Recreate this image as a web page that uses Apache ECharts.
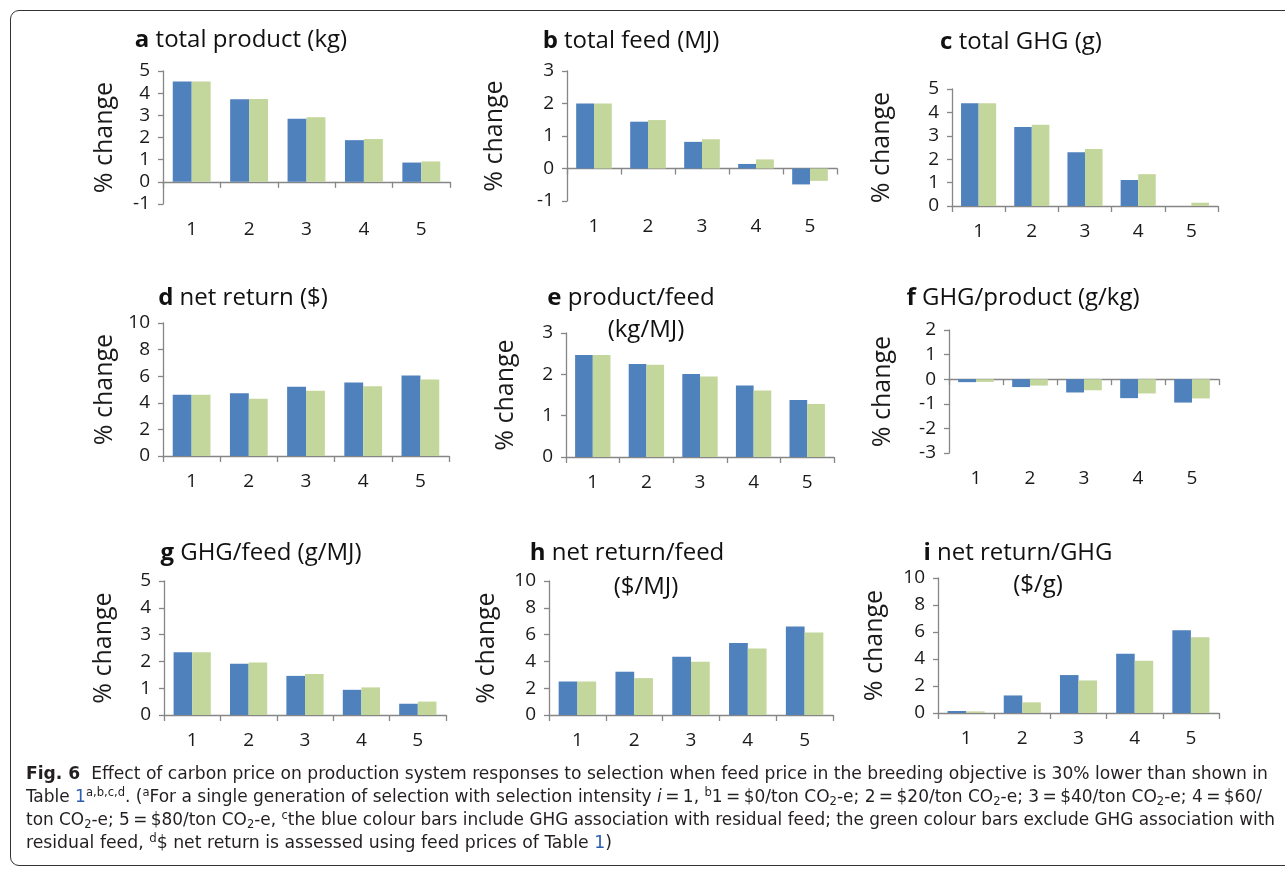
<!DOCTYPE html>
<html>
<head>
<meta charset="utf-8">
<script src="https://cdn.jsdelivr.net/npm/echarts@6/dist/echarts.min.js"></script>
<style>
  html, body { margin: 0; padding: 0; background: #fff; }
  #wrap { position: relative; width: 1285px; height: 873px; overflow: hidden; }
  #chart { position: absolute; left: 0; top: 0; width: 1285px; height: 873px; }
  #frame { position: absolute; left: 10px; top: 10px; width: 1320px; height: 856px;
           border: 1.3px solid #333; border-radius: 9px; box-sizing: border-box; }
  #caption { position: absolute; left: 26px; top: 763px; color: #231f20;
             font-family: "Liberation Sans Narrow", "DejaVu Sans Condensed", "Open Sans", sans-serif;
             font-size: 17px; }
  #caption .ln { position: absolute; left: 0; white-space: nowrap; transform-origin: 0 50%; }
  #caption sup { font-size: 0.68em; vertical-align: 0.55em; line-height: 0; }
  #caption sub { font-size: 0.68em; vertical-align: -0.3em; line-height: 0; }
  #caption .ref { color: #2a5db0; }
</style>
</head>
<body>
<div id="wrap">
  <div id="frame"></div>
  <div id="chart"></div>
  <div id="caption">
    <div class="ln" data-w="1242" style="top:0px"><b>Fig. 6</b>&nbsp; Effect of carbon price on production system responses to selection when feed price in the breeding objective is 30% lower than shown in</div>
    <div class="ln" data-w="1236" style="top:23px">Table <span class="ref">1</span><sup>a,b,c,d</sup>. (<sup>a</sup>For a single generation of selection with selection intensity <i>i</i>&#8201;=&#8201;1, <sup>b</sup>1&#8201;=&#8201;$0/ton CO<sub>2</sub>-e; 2&#8201;=&#8201;$20/ton CO<sub>2</sub>-e; 3&#8201;=&#8201;$40/ton CO<sub>2</sub>-e; 4&#8201;=&#8201;$60/</div>
    <div class="ln" data-w="1249" style="top:46px">ton CO<sub>2</sub>-e; 5&#8201;=&#8201;$80/ton CO<sub>2</sub>-e, <sup>c</sup>the blue colour bars include GHG association with residual feed; the green colour bars exclude GHG association with</div>
    <div class="ln" data-w="586" style="top:69px">residual feed, <sup>d</sup>$ net return is assessed using feed prices of Table <span class="ref">1</span>)</div>
  </div>
</div>
<script>
// ---------- data ----------
const categories = ['1', '2', '3', '4', '5'];

const aBlue  = [4.53, 3.73, 2.85, 1.88, 0.87];
const aGreen = [4.53, 3.74, 2.91, 1.93, 0.92];

const bBlue  = [2.00, 1.44, 0.82, 0.14, -0.49];
const bGreen = [2.00, 1.49, 0.90, 0.28, -0.38];

const cBlue  = [4.39, 3.38, 2.30, 1.11, -0.06];
const cGreen = [4.39, 3.47, 2.44, 1.36, 0.14];

const dBlue  = [4.60, 4.72, 5.20, 5.53, 6.06];
const dGreen = [4.60, 4.30, 4.90, 5.25, 5.75];

const eBlue  = [2.47, 2.25, 2.01, 1.73, 1.38];
const eGreen = [2.47, 2.23, 1.95, 1.61, 1.28];

const fBlue  = [-0.12, -0.32, -0.54, -0.77, -0.95];
const fGreen = [-0.11, -0.26, -0.45, -0.58, -0.78];

const gBlue  = [2.34, 1.91, 1.46, 0.94, 0.42];
const gGreen = [2.34, 1.96, 1.53, 1.03, 0.50];

const hBlue  = [2.50, 3.23, 4.34, 5.38, 6.60];
const hGreen = [2.50, 2.75, 3.97, 4.96, 6.15];

const iBlue  = [0.15, 1.30, 2.81, 4.38, 6.13];
const iGreen = [0.12, 0.79, 2.41, 3.87, 5.62];

const yAxisName = '% change';

// ---------- layout ----------
const FONT = '"Open Sans", sans-serif';
const BLUE = '#4F81BD';
const GREEN = '#C3D69B';
const AXIS = '#868686';

const panels = [
  { blue: aBlue, green: aGreen, min: -1, max: 5,  interval: 1, grid: [163, 71, 287, 133],   nameGap: 46,
    titles: [{ b: 'a', t: 'total product (kg)', x: 241, y: 40 }] },
  { blue: bBlue, green: bGreen, min: -1, max: 3,  interval: 1, grid: [567, 71, 270, 130],   nameGap: 60,
    titles: [{ b: 'b', t: 'total feed (MJ)', x: 631, y: 41 }] },
  { blue: cBlue, green: cGreen, min: 0,  max: 5,  interval: 1, grid: [952, 89, 266, 117],   nameGap: 58,
    titles: [{ b: 'c', t: 'total GHG (g)', x: 1021, y: 42 }] },
  { blue: dBlue, green: dGreen, min: 0,  max: 10, interval: 2, grid: [163, 323, 286, 133],  nameGap: 46,
    titles: [{ b: 'd', t: 'net return ($)', x: 243, y: 298 }] },
  { blue: eBlue, green: eGreen, min: 0,  max: 3,  interval: 1, grid: [566, 333, 268, 124],  nameGap: 48,
    titles: [{ b: 'e', t: 'product/feed', x: 631, y: 298 }, { b: '', t: '(kg/MJ)', x: 646, y: 330 }] },
  { blue: fBlue, green: fGreen, min: -3, max: 2,  interval: 1, grid: [949, 330, 270, 123],  nameGap: 54,
    titles: [{ b: 'f', t: 'GHG/product (g/kg)', x: 1023, y: 298 }] },
  { blue: gBlue, green: gGreen, min: 0,  max: 5,  interval: 1, grid: [164, 581, 282, 134],  nameGap: 48,
    titles: [{ b: 'g', t: 'GHG/feed (g/MJ)', x: 261, y: 553 }] },
  { blue: hBlue, green: hGreen, min: 0,  max: 10, interval: 2, grid: [549, 581, 284, 134],  nameGap: 50,
    titles: [{ b: 'h', t: 'net return/feed', x: 627, y: 553 }, { b: '', t: '($/MJ)', x: 646, y: 587 }] },
  { blue: iBlue, green: iGreen, min: 0,  max: 10, interval: 2, grid: [938, 578, 281, 135],  nameGap: 51,
    titles: [{ b: 'i', t: 'net return/GHG', x: 1018, y: 553 }, { b: '', t: '($/g)', x: 1038, y: 585 }] }
];

const grid = [], xAxis = [], yAxis = [], series = [], graphic = [];

panels.forEach((p, i) => {
  grid.push({ left: p.grid[0], top: p.grid[1], width: p.grid[2], height: p.grid[3], containLabel: false });
  // axis line at zero with tick marks
  xAxis.push({
    type: 'category', gridIndex: i, data: categories, position: 'bottom',
    axisLine: { show: true, onZero: true, lineStyle: { color: AXIS, width: 1.3 } },
    axisTick: { show: true, length: 6, lineStyle: { color: AXIS, width: 1.3 } },
    axisLabel: { show: false }, splitLine: { show: false }
  });
  // labels at the bottom of the plot
  xAxis.push({
    type: 'category', gridIndex: i, data: categories, position: 'bottom',
    axisLine: { show: false, onZero: false }, axisTick: { show: false },
    axisLabel: { show: true, margin: 16, fontSize: 19, color: '#1a1a1a', fontFamily: FONT },
    splitLine: { show: false }
  });
  yAxis.push({
    type: 'value', gridIndex: i, min: p.min, max: p.max, interval: p.interval,
    name: yAxisName, nameLocation: 'middle', nameGap: p.nameGap, nameRotate: 90,
    nameTextStyle: { fontSize: 25, color: '#1a1a1a', fontFamily: FONT },
    axisLine: { show: true, lineStyle: { color: AXIS, width: 1.3 } },
    axisTick: { show: true, length: 5, lineStyle: { color: AXIS, width: 1.3 } },
    axisLabel: { margin: 13, fontSize: 19, color: '#1a1a1a', fontFamily: FONT },
    splitLine: { show: false }
  });
  series.push({
    type: 'bar', xAxisIndex: 2 * i, yAxisIndex: i, data: p.blue,
    itemStyle: { color: BLUE }, barGap: '0%', barCategoryGap: '34%', silent: true
  });
  series.push({
    type: 'bar', xAxisIndex: 2 * i, yAxisIndex: i, data: p.green,
    itemStyle: { color: GREEN }, barGap: '0%', barCategoryGap: '34%', silent: true
  });
  p.titles.forEach(t => {
    graphic.push({
      type: 'text', x: t.x, y: t.y,
      style: {
        text: (t.b ? '{b|' + t.b + '}{n| ' : '{n|') + t.t + '}',
        align: 'center', verticalAlign: 'middle',
        rich: {
          b: { fontWeight: 'bold', fontSize: 24, fontFamily: FONT, fill: '#111' },
          n: { fontSize: 24, fontFamily: FONT, fill: '#111' }
        }
      }
    });
  });
});

const chart = echarts.init(document.getElementById('chart'), null, { renderer: 'canvas' });
chart.setOption({
  animation: false,
  backgroundColor: 'transparent',
  grid, xAxis, yAxis, series, graphic
});

// fit caption lines to the measured widths of the reference
document.querySelectorAll('#caption .ln').forEach(el => {
  const target = parseFloat(el.dataset.w);
  const w = el.getBoundingClientRect().width;
  if (w > 0) el.style.transform = 'scaleX(' + (target / w).toFixed(4) + ')';
});
</script>
</body>
</html>
